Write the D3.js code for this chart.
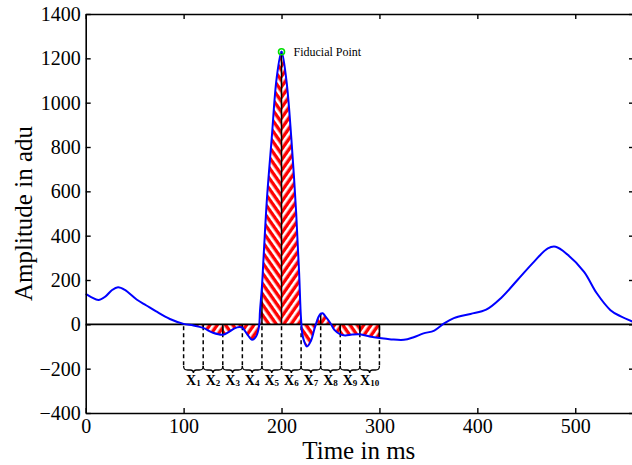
<!DOCTYPE html>
<html>
<head>
<meta charset="utf-8">
<script src="https://cdn.jsdelivr.net/npm/d3@7"></script>
<style>
  body { margin: 0; background: #fff; }
  svg text { font-family: "Liberation Serif", "Times New Roman", serif; }
</style>
</head>
<body>
<svg id="chart" width="632" height="465"></svg>
<script>
// signal samples (ms, adu)
var timeMs = [0, 6, 13, 20, 27, 33, 40, 52, 62, 72, 86, 100, 110, 120, 130, 140, 146, 152, 157, 160, 165, 170, 174, 177,
  178, 180, 182, 185, 190, 195, 200, 205, 210, 215, 218, 220, 222, 226, 230, 234, 238, 240, 242, 245, 250, 254, 260,
  265, 272, 280, 290, 300, 312, 325, 335, 345, 356, 366, 376, 393, 409, 424, 441, 458, 472, 480, 492, 509, 522, 536, 546, 560];
var amplitude = [137, 122, 110, 125, 155, 167, 155, 112, 85, 58, 24, 2, -5, -16, -38, -47, -35, -18, -12, -15, -45, -70, -55, -10,
  60, 170, 330, 560, 840, 1110, 1230, 1100, 840, 500, 230, 20, -60, -100, -75, -15, 35, 48, 50, 35, 5, -25, -45,
  -50, -46, -45, -55, -62, -68, -70, -58, -41, -28, 4, 28, 47, 66, 118, 200, 283, 343, 350, 315, 237, 140, 64, 37, 10];

// segment boundaries X1..X10
var segEdges = [100, 120, 140, 160, 180, 200, 220, 240, 260, 280, 300];
var segNames = ["1", "2", "3", "4", "5", "6", "7", "8", "9", "10"];

var xTicks = [0, 100, 200, 300, 400, 500];
var yTicks = [-400, -200, 0, 200, 400, 600, 800, 1000, 1200, 1400];

var fiducialT = 200, fiducialV = 1230;

var signal = timeMs.map(function (t, i) { return { t: t, v: amplitude[i] }; });

var svg = d3.select("#chart");
var x = d3.scaleLinear().domain([0, 560]).range([85.7, 634]);
var y = d3.scaleLinear().domain([-400, 1400]).range([413, 14]);

// hatch patterns
var defs = svg.append("defs");
[["hatchA", -35], ["hatchB", 35]].forEach(function (p) {
  var pat = defs.append("pattern")
    .attr("id", p[0])
    .attr("patternUnits", "userSpaceOnUse")
    .attr("width", 6).attr("height", 6)
    .attr("patternTransform", "rotate(" + p[1] + ")");
  pat.append("rect").attr("width", 6).attr("height", 6).attr("fill", "#ff0000");
  pat.append("rect").attr("width", 2.6).attr("height", 6).attr("fill", "#ffffff");
});

// clip per segment
segNames.forEach(function (n, i) {
  defs.append("clipPath").attr("id", "seg" + i)
    .append("rect")
    .attr("x", x(segEdges[i])).attr("y", 0)
    .attr("width", x(segEdges[i + 1]) - x(segEdges[i]))
    .attr("height", 465);
});

var curve = d3.curveCatmullRom.alpha(0.5);

var area = d3.area()
  .x(function (d) { return x(d.t); })
  .y0(y(0))
  .y1(function (d) { return y(d.v); })
  .curve(curve);

var hatchData = signal.filter(function (d) { return d.t >= 100 && d.t <= 300; });

segNames.forEach(function (n, i) {
  svg.append("path")
    .datum(hatchData)
    .attr("clip-path", "url(#seg" + i + ")")
    .attr("fill", i % 2 === 0 ? "url(#hatchA)" : "url(#hatchB)")
    .attr("d", area);
});

// black edges of the patches
segEdges.forEach(function (t) {
  var v = amplitude[timeMs.indexOf(t)];
  svg.append("line")
    .attr("x1", x(t)).attr("x2", x(t))
    .attr("y1", y(0)).attr("y2", y(v))
    .attr("stroke", "#000").attr("stroke-width", 1.5);
});

// dashed drop lines
segEdges.forEach(function (t) {
  svg.append("line")
    .attr("x1", x(t)).attr("x2", x(t))
    .attr("y1", y(0) + 2).attr("y2", 367)
    .attr("stroke", "#000").attr("stroke-width", 1.5)
    .attr("stroke-dasharray", "4,3");
});

// little braces + labels
segNames.forEach(function (n, i) {
  var x0 = x(segEdges[i]), x1 = x(segEdges[i + 1]), xm = (x0 + x1) / 2;
  var p = "M" + x0 + ",366 C" + x0 + ",370 " + (x0 + 2) + ",370 " + (x0 + 4) + ",370"
    + " L" + (xm - 3) + ",370 C" + (xm - 1) + ",370 " + xm + ",371 " + xm + ",373"
    + " C" + xm + ",371 " + (xm + 1) + ",370 " + (xm + 3) + ",370"
    + " L" + (x1 - 4) + ",370 C" + (x1 - 2) + ",370 " + x1 + ",370 " + x1 + ",366";
  svg.append("path").attr("d", p).attr("fill", "none")
    .attr("stroke", "#000").attr("stroke-width", 1.3);

  var lab = svg.append("text")
    .attr("x", xm).attr("y", 385)
    .attr("text-anchor", "middle")
    .attr("font-weight", "bold")
    .attr("font-size", "14px");
  lab.append("tspan").text("X");
  lab.append("tspan").attr("font-size", "9px").attr("dy", 1).text(n);
});

// zero line
svg.append("line")
  .attr("x1", x(0)).attr("x2", x(560))
  .attr("y1", y(0)).attr("y2", y(0))
  .attr("stroke", "#000").attr("stroke-width", 1.6);

// signal
var line = d3.line()
  .x(function (d) { return x(d.t); })
  .y(function (d) { return y(d.v); })
  .curve(curve);

svg.append("path")
  .datum(signal)
  .attr("fill", "none")
  .attr("stroke", "#0000ff")
  .attr("stroke-width", 2)
  .attr("d", line);

// fiducial point
svg.append("circle")
  .attr("cx", x(fiducialT)).attr("cy", y(fiducialV)).attr("r", 3)
  .attr("fill", "none").attr("stroke", "#00e000").attr("stroke-width", 1.6);
svg.append("circle")
  .attr("cx", x(fiducialT)).attr("cy", y(fiducialV)).attr("r", 1)
  .attr("fill", "#0000ff");
svg.append("text")
  .attr("x", x(fiducialT) + 12).attr("y", y(fiducialV) + 4)
  .attr("font-size", "12px")
  .text("Fiducial Point");

// axes
var fmt = d3.format("d");
var bottomAxis = d3.axisBottom(x).tickValues(xTicks).tickFormat(fmt).tickSize(-5).tickSizeOuter(0).tickPadding(6);
var topAxis = d3.axisTop(x).tickValues(xTicks).tickSize(-5).tickSizeOuter(0).tickFormat("");
var leftAxis = d3.axisLeft(y).tickValues(yTicks).tickFormat(fmt).tickSize(-5).tickSizeOuter(0).tickPadding(5);
var rightAxis = d3.axisRight(y).tickValues(yTicks).tickSize(-5).tickSizeOuter(0).tickFormat("");

function styleAxis(g) {
  g.select(".domain").attr("stroke-width", 1.6);
  g.selectAll(".tick line").attr("stroke-width", 1.4);
  g.selectAll("text")
    .style("font-family", "'Liberation Serif', 'Times New Roman', serif")
    .style("font-size", "20px")
    .attr("fill", "#000");
}

svg.append("g").attr("transform", "translate(0," + y(-400) + ")").call(bottomAxis).call(styleAxis);
svg.append("g").attr("transform", "translate(0," + y(1400) + ")").call(topAxis).call(styleAxis);
svg.append("g").attr("transform", "translate(" + x(0) + ",0)").call(leftAxis).call(styleAxis);
svg.append("g").attr("transform", "translate(" + x(560) + ",0)").call(rightAxis).call(styleAxis);

// labels
svg.append("text")
  .attr("x", (x(0) + 632) / 2)
  .attr("y", 459)
  .attr("text-anchor", "middle")
  .attr("font-size", "25px")
  .text("Time in ms");

svg.append("text")
  .attr("transform", "translate(32," + y(500) + ") rotate(-90)")
  .attr("text-anchor", "middle")
  .attr("font-size", "25px")
  .text("Amplitude in adu");
</script>
</body>
</html>
